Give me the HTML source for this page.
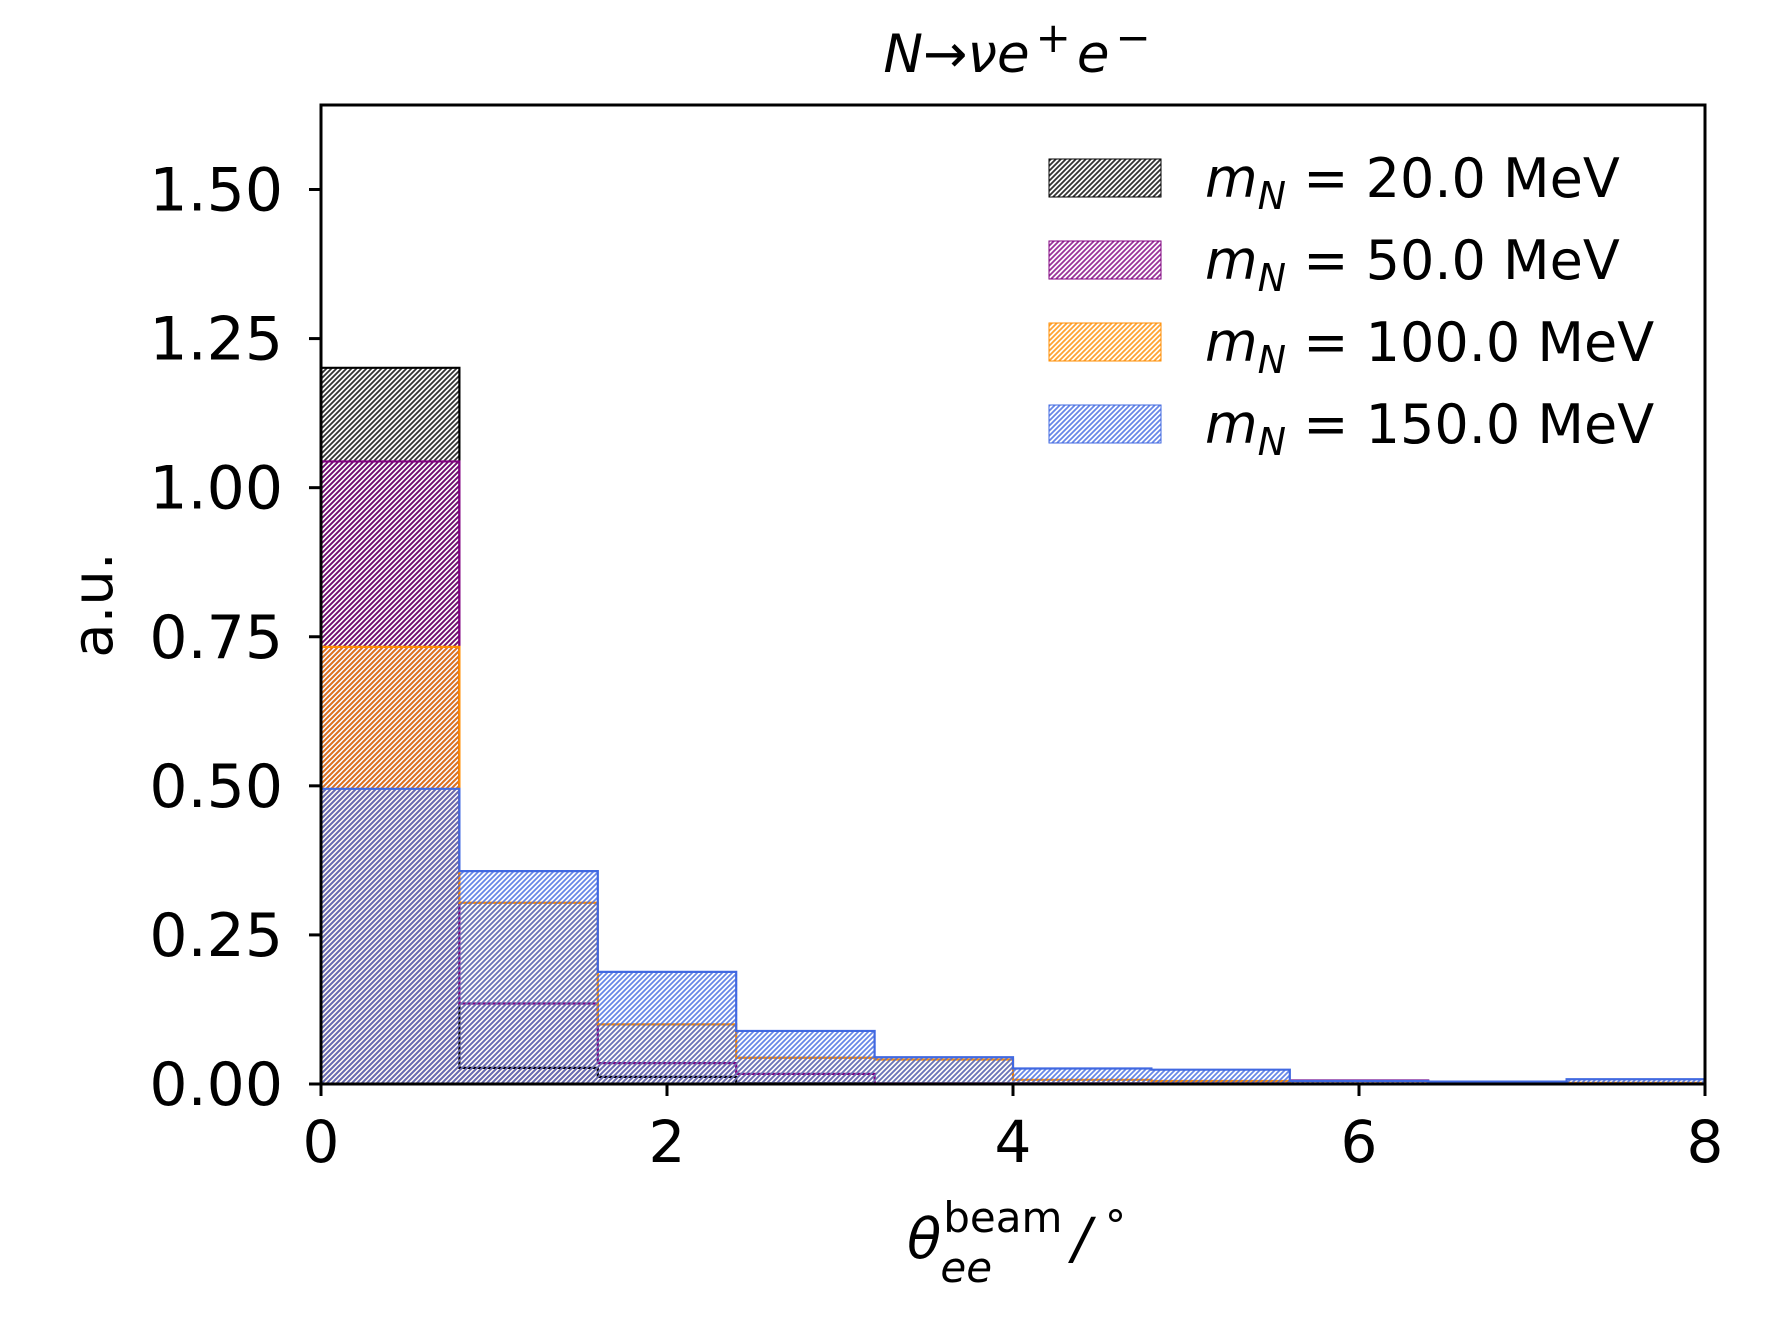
<!DOCTYPE html>
<html><head><meta charset="utf-8"><style>
html,body{margin:0;padding:0;background:#fff;}
svg{display:block;font-family:"DejaVu Sans","Liberation Sans",sans-serif;}
</style></head><body>
<svg id="chart" width="1776" height="1322" viewBox="0 0 1776 1322">
<defs>
<pattern id="h-black" patternUnits="userSpaceOnUse" width="5" height="5"><path d="M-1,1 l2,-2 M0,5 l5,-5 M4,6 l2,-2" stroke="#000" stroke-width="1.8"/></pattern>
<pattern id="h-purple" patternUnits="userSpaceOnUse" width="5" height="5"><path d="M-1,1 l2,-2 M0,5 l5,-5 M4,6 l2,-2" stroke="#800080" stroke-width="1.8"/></pattern>
<pattern id="h-orange" patternUnits="userSpaceOnUse" width="5" height="5"><path d="M-1,1 l2,-2 M0,5 l5,-5 M4,6 l2,-2" stroke="#ff8c00" stroke-width="1.8"/></pattern>
<pattern id="h-blue" patternUnits="userSpaceOnUse" width="5" height="5"><path d="M-1,1 l2,-2 M0,5 l5,-5 M4,6 l2,-2" stroke="#4169e1" stroke-width="1.8"/></pattern>
</defs>
<g id="plot"></g>
<text x="1017" y="72" font-size="53" text-anchor="middle"><tspan font-style="italic">N</tspan>→<tspan font-style="italic">νe</tspan><tspan font-size="42" dx="6" dy="-20">+</tspan><tspan dy="20" font-style="italic" dx="6">e</tspan><tspan font-size="42" dx="6" dy="-20">−</tspan></text>
<text x="907" y="1258" font-size="56"><tspan font-style="italic">θ</tspan><tspan font-size="42" dx="2" dy="-26">beam</tspan><tspan font-size="42" font-style="italic" dx="-122" dy="50">ee</tspan><tspan font-style="italic" dx="80" dy="-24">/</tspan><tspan font-size="42" dx="14" dy="-18">°</tspan></text>
<text transform="translate(112,605) rotate(-90)" font-size="56" text-anchor="middle">a.u.</text>
</svg>
<script>
const binEdges = [0,0.8,1.6,2.4,3.2,4.0,4.8,5.6,6.4,7.2,8.0];
const seriesLabels = ["20.0","50.0","100.0","150.0"];
const seriesColors = ["#000000","#800080","#ff8c00","#4169e1"];
const seriesPatterns = ["h-black","h-purple","h-orange","h-blue"];
const vals20  = [1.201,0.027,0.012,0.001,0,0,0,0,0,0];
const vals50  = [1.044,0.135,0.035,0.017,0.001,0.001,0.001,0.006,0.003,0.001];
const vals100 = [0.733,0.304,0.100,0.044,0.041,0.007,0.005,0.001,0.001,0.002];
const vals150 = [0.495,0.357,0.188,0.089,0.045,0.026,0.024,0.005,0.004,0.008];
const xTicks = [0,2,4,6,8];
const yTicks = [0,0.25,0.5,0.75,1.0,1.25,1.5];
const yTickLabels = ["0.00","0.25","0.50","0.75","1.00","1.25","1.50"];
const L=321,R=1705,T=105,B=1084,XMAX=8,YMAX=1.6417;
function xs(v){return L+(R-L)*v/XMAX;}
function ys(v){return B-(B-T)*v/YMAX;}
const NS="http://www.w3.org/2000/svg";
const g=document.getElementById('plot');
function mk(t,a){const e=document.createElementNS(NS,t);for(const k in a)e.setAttribute(k,a[k]);return e;}
const all=[vals20,vals50,vals100,vals150];
all.forEach((vals,si)=>{
  let d="M"+xs(binEdges[0])+","+ys(0);
  vals.forEach((v,i)=>{d+=" L"+xs(binEdges[i])+","+ys(v)+" L"+xs(binEdges[i+1])+","+ys(v);});
  d+=" L"+xs(binEdges[binEdges.length-1])+","+ys(0)+" Z";
  const p=mk('path',{d:d,fill:"url(#"+seriesPatterns[si]+")","fill-opacity":"0.8",stroke:seriesColors[si],"stroke-width":"2.2"});
  
  
  g.appendChild(p);
});
const fr=mk('rect',{x:L,y:T,width:R-L,height:B-T,fill:"none",stroke:"#000","stroke-width":"3"});


g.appendChild(fr);
xTicks.forEach(v=>{
  const l=mk('line',{x1:xs(v),x2:xs(v),y1:B,y2:B+12,stroke:"#000","stroke-width":"3"});
  
  
  g.appendChild(l);
  const t=mk('text',{x:xs(v),y:B+78,"font-size":"58","text-anchor":"middle"});
  t.textContent=v;
  
  
  g.appendChild(t);
});
yTicks.forEach((v,i)=>{
  const l=mk('line',{x1:L-12,x2:L,y1:ys(v),y2:ys(v),stroke:"#000","stroke-width":"3"});
  
  
  g.appendChild(l);
  const t=mk('text',{x:L-38,y:ys(v)+21,"font-size":"60","text-anchor":"end"});
  t.textContent=yTickLabels[i];
  
  
  g.appendChild(t);
});
seriesLabels.forEach((lab,i)=>{
  const y0=159+i*82;
  const r=mk('rect',{x:1049,y:y0,width:112,height:38,fill:"url(#"+seriesPatterns[i]+")","fill-opacity":"0.8",stroke:seriesColors[i],"stroke-width":"1"});
  
  
  g.appendChild(r);
  const t=mk('text',{x:1205,y:y0+38,"font-size":"54"});
  t.innerHTML='<tspan font-style="italic">m</tspan><tspan font-style="italic" font-size="38" dy="12">N</tspan><tspan dy="-12"> = '+lab+' MeV</tspan>';
  
  
  g.appendChild(t);
});
</script>
</body></html>
